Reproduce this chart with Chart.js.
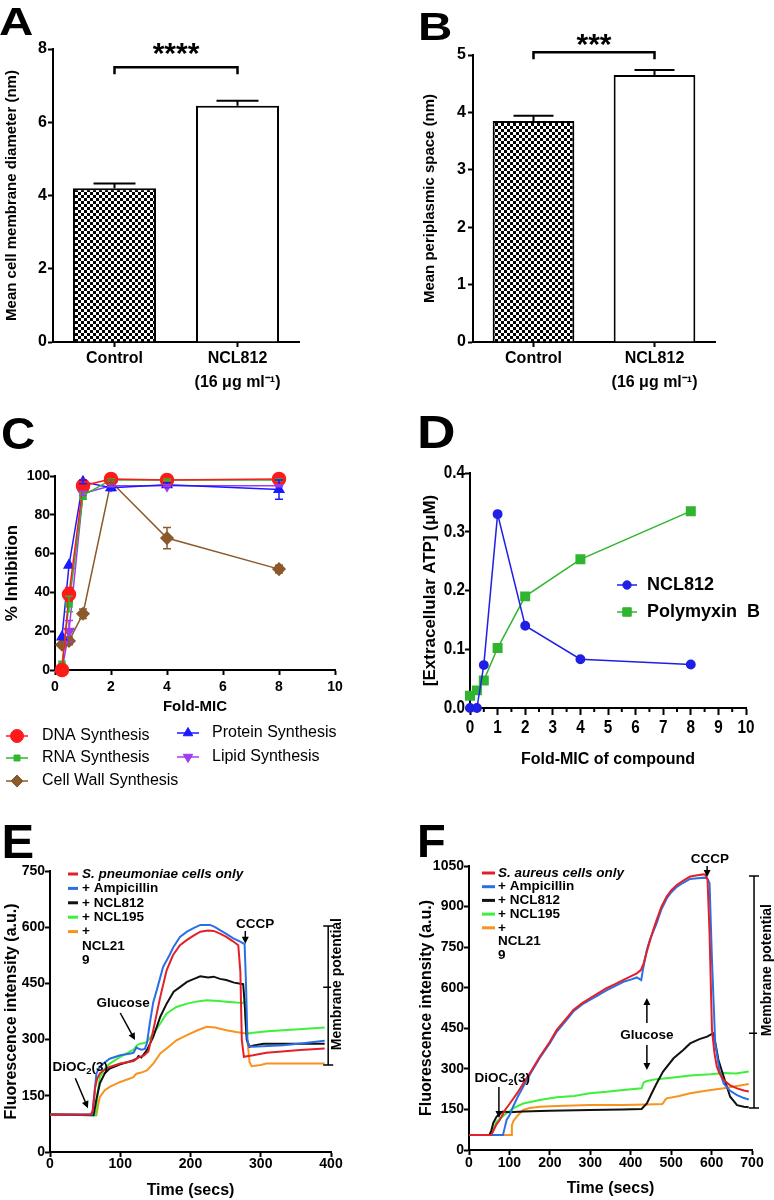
<!DOCTYPE html>
<html><head><meta charset="utf-8">
<script src="https://cdn.jsdelivr.net/npm/chart.js@4"></script>
<style>
html,body{margin:0;padding:0;background:#fff;}
#wrap{position:relative;width:774px;height:1200px;overflow:hidden;background:#fff;}
canvas{position:absolute;}
</style></head><body>
<div id="wrap">
<canvas id="cA" width="390" height="390" style="left:0px;top:0px"></canvas>
<canvas id="cB" width="384" height="390" style="left:390px;top:0px"></canvas>
<canvas id="cC" width="390" height="420" style="left:0px;top:390px"></canvas>
<canvas id="cD" width="384" height="420" style="left:390px;top:390px"></canvas>
<canvas id="cE" width="390" height="390" style="left:0px;top:810px"></canvas>
<canvas id="cF" width="384" height="390" style="left:390px;top:810px"></canvas>
</div>
<script>
// ---------------- DATA ----------------
const barCategories = ['Control', ['NCL812', '(16 \u03bcg ml\u207b\u00b9)']];
const membraneDiameter = [4.2, 6.45];
const membraneDiameterErr = [0.13, 0.14];
const periplasmicSpace = [3.85, 4.65];
const periplasmicSpaceErr = [0.09, 0.09];

const foldMIC = [0.25, 0.5, 1, 2, 4, 8];
const dnaSynthesis = [0, 39, 95, 98.5, 98, 98.5];
const dnaErr = [0, 3.5, 1, 0.5, 0.5, 0.5];
const rnaSynthesis = [3, 34, 90, 98, 98, 98];
const rnaErr = [0, 4, 2, 0.5, 0.5, 0.5];
const proteinSynthesis = [17, 54, 97, 94, 95.5, 93];
const proteinErr = [0, 0, 1, 1.5, 1, 5];
const lipidSynthesis = [0, 20, 91, 95, 95, 95];
const lipidErr = [0, 5.5, 1, 0.5, 0.5, 0.5];
const cellWallSynthesis = [13, 15, 29, 97, 68, 52];
const cellWallErr = [0, 2, 2.5, 1, 5.5, 2];

const atpFoldMIC = [0, 0.25, 0.5, 1, 2, 4, 8];
const atpNCL812 = [0, 0, 0.073, 0.33, 0.14, 0.083, 0.074];
const atpPolymyxinB = [0.021, 0.03, 0.047, 0.102, 0.19, 0.253, 0.335];

// Panel E (S. pneumoniae)
const eRedT = [0,58,61,64,67,71,78,85,100,119,124,128,134,140,147,152,157,166,175,185,195,205,214,225,233,242,251,260,268,271,273,276,289,308,330,356,391];
const eRedY = [100,100,110,170,195,210,220,227,236,243,250,254,258,268,325,370,414,485,525,552,566,578,588,591,590,583,574,563,552,480,300,254,258,265,268,272,276];
const eBlueT = [0,60,63,66,70,76,85,100,115,119,123,126,130,135,138,142,147,152,161,170,176,185,195,205,214,222,228,235,242,251,261,270,277,279,281,283,289,310,332,360,391];
const eBlueY = [100,100,150,209,225,236,249,258,263,265,279,276,273,275,290,343,400,432,494,525,548,574,588,598,606,606,606,600,592,582,570,562,555,450,300,282,281,283,285,290,297];
const eBlackT = [0,62,66,71,78,85,100,119,124,126,130,138,147,157,166,176,185,195,205,214,225,233,242,251,262,275,277,280,284,290,304,340,391];
const eBlackY = [100,98,140,183,210,223,234,245,250,256,252,272,307,361,396,428,440,454,462,469,466,468,462,459,452,448,400,300,281,284,289,289,289];
const eGreenT = [0,65,68,71,78,85,100,119,124,128,133,138,147,157,166,180,195,210,223,240,251,265,275,277,279,282,289,310,332,360,391];
const eGreenY = [100,98,160,200,222,236,254,273,285,289,290,294,316,343,370,387,396,402,405,403,401,399,398,405,330,316,318,322,325,328,332];
const eOrangeT = [0,66,69,71,78,85,100,119,121,123,130,138,147,157,166,180,195,210,223,235,251,265,280,282,284,287,300,308,350,391];
const eOrangeY = [100,98,130,147,165,174,187,200,205,209,212,218,236,263,276,298,312,325,334,332,325,320,316,280,240,229,232,236,236,236];

// Panel F (S. aureus)
const fRedT = [0,55,60,68,76,90,101,120,134,155,175,200,217,240,258,280,299,320,340,360,382,400,415,425,432,440,448,456,464,476,489,500,514,530,547,565,580,585,590,595,601,607,613,620,630,645,663,680,692];
const fRedY = [55,55,70,95,111,150,172,212,246,295,345,400,444,485,518,543,561,580,598,612,629,642,653,665,690,735,776,815,850,900,937,960,980,996,1011,1016,1019,1017,1000,800,444,360,308,282,259,240,228,220,216];
const fBlueT = [0,84,88,93,101,109,120,134,155,175,200,217,240,258,280,299,320,340,360,382,400,415,426,430,440,448,464,476,489,500,514,530,547,565,584,590,595,601,609,620,630,645,663,680,692];
const fBlueY = [55,55,80,111,130,160,195,234,290,340,395,437,478,512,538,555,573,590,605,622,630,638,628,665,740,780,838,890,930,952,973,988,1002,1005,1007,1002,986,702,394,290,246,220,203,192,187];
const fBlackT = [0,50,55,60,68,76,84,100,134,200,299,380,427,432,440,452,464,480,506,530,547,570,589,600,605,610,617,630,646,663,680,692];
const fBlackY = [55,55,70,100,123,135,142,140,142,145,148,150,152,160,172,210,246,290,339,370,394,410,419,428,431,390,333,271,197,166,160,158];
const fGreenT = [0,55,60,68,80,93,110,134,175,217,260,299,340,382,427,432,440,464,506,547,597,630,660,692];
const fGreenY = [55,55,75,105,120,136,155,172,185,195,200,210,215,222,228,250,255,262,268,275,280,285,283,290];
const fOrangeT = [0,104,106,109,115,125,134,150,175,217,299,382,440,478,481,485,489,520,547,590,630,660,692];
const fOrangeY = [55,55,90,105,118,135,148,155,160,163,166,166,168,170,175,185,191,200,210,220,228,236,244];

const eLegendLines = [['S. pneumoniae cells only'], ['+ Ampicillin'], ['+ NCL812'], ['+ NCL195'], ['+', 'NCL21', '9']];
const fLegendLines = [['S. aureus cells only'], ['+ Ampicillin'], ['+ NCL812'], ['+ NCL195'], ['+', 'NCL21', '9']];

// ---------------- HELPERS ----------------
const FONT = "'Liberation Sans', Arial, Helvetica, sans-serif";
Chart.defaults.font.family = FONT;
Chart.defaults.color = '#000';
Chart.defaults.animation = false;

const xy = (xs, ys) => xs.map((x, i) => ({x: x, y: ys[i]}));

function checker(ctx) {
  const c = document.createElement('canvas'); c.width = 6; c.height = 6;
  const g = c.getContext('2d');
  g.fillStyle = '#fff'; g.fillRect(0, 0, 6, 6);
  g.fillStyle = '#000'; g.fillRect(0, 0, 3, 3); g.fillRect(3, 3, 3, 3);
  return ctx.createPattern(c, 'repeat');
}

function panelLabel(ctx, text, x, baseline, size, sx) {
  ctx.save();
  ctx.font = 'bold ' + size + 'px ' + FONT;
  ctx.fillStyle = '#000'; ctx.textAlign = 'left'; ctx.textBaseline = 'alphabetic';
  ctx.translate(x, baseline); ctx.scale(sx, 1); ctx.fillText(text, 0, 0);
  ctx.restore();
}

function narrowText(ctx, text, x, y, align, size, sx) {
  ctx.save();
  ctx.font = 'bold ' + size + 'px ' + FONT;
  ctx.fillStyle = '#000'; ctx.textAlign = align; ctx.textBaseline = 'middle';
  ctx.translate(x, y); ctx.scale(sx, 1); ctx.fillText(text, 0, 0);
  ctx.restore();
}

function marker(ctx, style, x, y, r, color) {
  ctx.save(); ctx.fillStyle = color; ctx.strokeStyle = color; ctx.lineWidth = 1;
  ctx.beginPath();
  const s = r * Math.SQRT1_2;
  if (style === 'circle') ctx.arc(x, y, r, 0, Math.PI * 2);
  else if (style === 'rect') ctx.rect(x - s, y - s, 2 * s, 2 * s);
  else if (style === 'rectRot') { ctx.moveTo(x, y - r); ctx.lineTo(x + r, y); ctx.lineTo(x, y + r); ctx.lineTo(x - r, y); ctx.closePath(); }
  else if (style === 'triangle') { ctx.moveTo(x, y - r); ctx.lineTo(x + r * 0.866, y + r * 0.5); ctx.lineTo(x - r * 0.866, y + r * 0.5); ctx.closePath(); }
  else if (style === 'triangleDown') { ctx.moveTo(x, y + r); ctx.lineTo(x + r * 0.866, y - r * 0.5); ctx.lineTo(x - r * 0.866, y - r * 0.5); ctx.closePath(); }
  ctx.fill(); ctx.stroke(); ctx.restore();
}

function arrow(ctx, x1, y1, x2, y2) {
  const a = Math.atan2(y2 - y1, x2 - x1), h = 7, w = 3.5;
  ctx.beginPath(); ctx.moveTo(x1, y1); ctx.lineTo(x2 - Math.cos(a) * h * 0.8, y2 - Math.sin(a) * h * 0.8); ctx.stroke();
  ctx.beginPath(); ctx.moveTo(x2, y2);
  ctx.lineTo(x2 - h * Math.cos(a) + w * Math.sin(a), y2 - h * Math.sin(a) - w * Math.cos(a));
  ctx.lineTo(x2 - h * Math.cos(a) - w * Math.sin(a), y2 - h * Math.sin(a) + w * Math.cos(a));
  ctx.closePath(); ctx.fill();
}

function subText(ctx, parts, cx, cy, size) {
  let total = 0;
  parts.forEach(p => { ctx.font = 'bold ' + (p[1] ? size * 0.7 : size) + 'px ' + FONT; total += ctx.measureText(p[0]).width; });
  let x = cx - total / 2;
  ctx.textAlign = 'left'; ctx.textBaseline = 'middle';
  parts.forEach(p => {
    ctx.font = 'bold ' + (p[1] ? size * 0.7 : size) + 'px ' + FONT;
    ctx.fillText(p[0], x, p[1] ? cy + size * 0.3 : cy);
    x += ctx.measureText(p[0]).width;
  });
}

function yAxis(o) {
  return {
    type: 'linear', min: o.min, max: o.max,
    afterFit: s => { s.width = o.width; },
    border: {display: true, color: '#000', width: 2},
    grid: {display: true, drawOnChartArea: false, drawTicks: true, tickLength: 5, tickColor: '#000', tickWidth: 2},
    ticks: {display: o.showTicks !== false, stepSize: o.step, padding: o.labelPad, color: '#000', font: {size: o.fontSize, weight: 'bold'},
            callback: v => (o.decimals ? Number(v).toFixed(o.decimals) : v)},
    title: {display: true, text: o.title, color: '#000', font: {size: o.titleSize, weight: 'bold'}, padding: {top: o.titlePad, bottom: 0}}
  };
}
function xAxis(o) {
  return {
    type: 'linear', min: o.min, max: o.max,
    afterFit: s => { s.height = o.height; },
    border: {display: true, color: '#000', width: 2},
    grid: {display: true, drawOnChartArea: false, drawTicks: true, tickLength: o.tickLength || 5, tickColor: '#000', tickWidth: 2},
    ticks: {display: o.showTicks !== false, stepSize: o.step, padding: o.labelPad, autoSkip: false, maxRotation: 0, color: '#000',
            font: {size: o.fontSize, weight: 'bold', lineHeight: o.lineHeight || 1.2}},
    title: {display: true, text: o.title, color: '#000', font: {size: o.titleSize, weight: 'bold'}, padding: {top: 0, bottom: 0}}
  };
}

// ---------------- BAR PANELS ----------------
const barExtras = {
  id: 'barExtras',
  afterDraw(chart, args, o) {
    const ctx = chart.ctx, ys = chart.scales.y, meta = chart.getDatasetMeta(0), ds = chart.data.datasets[0];
    ctx.save(); ctx.strokeStyle = '#000'; ctx.fillStyle = '#000'; ctx.lineWidth = 2;
    meta.data.forEach((bar, i) => {
      const top = ys.getPixelForValue(ds.data[i] + o.err[i]);
      ctx.beginPath(); ctx.moveTo(bar.x, bar.y); ctx.lineTo(bar.x, top);
      ctx.moveTo(bar.x - o.capW / 2, top); ctx.lineTo(bar.x + o.capW / 2, top); ctx.stroke();
    });
    const yb = ys.getPixelForValue(o.bracket), x0 = meta.data[0].x, x1 = meta.data[1].x;
    ctx.lineWidth = 2.5;
    ctx.beginPath(); ctx.moveTo(x0, yb + 7); ctx.lineTo(x0, yb); ctx.lineTo(x1, yb); ctx.lineTo(x1, yb + 7); ctx.stroke();
    ctx.font = 'bold 30px ' + FONT; ctx.textAlign = 'center'; ctx.textBaseline = 'alphabetic';
    ctx.fillText(o.stars, (x0 + x1) / 2, o.starY);
    ctx.restore();
    panelLabel(ctx, o.label, o.lx, o.ly, 38, 1.25);
  }
};

function makeBar(id, values, yMax, yStep, yWidth, rightPad, topPad, yTitle, titlePad, labelPad, extras) {
  const ctx = document.getElementById(id).getContext('2d');
  return new Chart(ctx, {
    type: 'bar',
    data: {labels: barCategories, datasets: [{data: values, backgroundColor: [checker(ctx), '#ffffff'], borderColor: '#000', borderWidth: 2,
      borderSkipped: 'bottom', barPercentage: 0.675, categoryPercentage: 1}]},
    options: {
      responsive: false, animation: false,
      layout: {padding: {left: 0, right: rightPad, top: topPad, bottom: 0}},
      plugins: {legend: {display: false}, tooltip: {enabled: false}, barExtras: extras},
      scales: {
        x: {afterFit: s => { s.height = 48; }, border: {display: true, color: '#000', width: 2},
            grid: {offset: false, drawOnChartArea: false, drawTicks: true, tickLength: 5, tickColor: '#000', tickWidth: 2},
            ticks: {padding: 0, maxRotation: 0, color: '#000', font: {size: 16, weight: 'bold', lineHeight: 1.5}}},
        y: yAxis({min: 0, max: yMax, step: yStep, width: yWidth, fontSize: 16, labelPad: labelPad, title: yTitle, titleSize: 15, titlePad: titlePad})
      }
    },
    plugins: [barExtras]
  });
}

makeBar('cA', membraneDiameter, 8, 2, 53, 91, 49, 'Mean cell membrane diameter (nm)', 3, 1,
  {err: membraneDiameterErr, capW: 42, bracket: 7.5, stars: '****', starY: 63, label: 'A', lx: -1, ly: 35});
makeBar('cB', periplasmicSpace, 5, 1, 83, 59, 55, 'Mean periplasmic space (nm)', 31, 2,
  {err: periplasmicSpaceErr, capW: 40, bracket: 5.05, stars: '***', starY: 54, label: 'B', lx: 28, ly: 40});

// ---------------- PANEL C ----------------
const cSeries = [
  {label: 'DNA Synthesis', y: dnaSynthesis, err: dnaErr, color: '#ff1a1a', style: 'circle', r: 6.5},
  {label: 'RNA Synthesis', y: rnaSynthesis, err: rnaErr, color: '#2eb82e', style: 'rect', r: 4.2},
  {label: 'Protein Synthesis', y: proteinSynthesis, err: proteinErr, color: '#1a1aff', style: 'triangle', r: 5.5},
  {label: 'Lipid Synthesis', y: lipidSynthesis, err: lipidErr, color: '#a03cf0', style: 'triangleDown', r: 5.5},
  {label: 'Cell Wall Synthesis', y: cellWallSynthesis, err: cellWallErr, color: '#8b5a2b', style: 'rectRot', r: 6}
];
const cLegendPos = {'DNA Synthesis': [17, 42, 346], 'RNA Synthesis': [17, 42, 368], 'Cell Wall Synthesis': [17, 42, 391],
                    'Protein Synthesis': [188, 212, 343], 'Lipid Synthesis': [188, 212, 367]};

const cExtras = {
  id: 'cExtras',
  afterDatasetsDraw(chart) {
    const ctx = chart.ctx, ys = chart.scales.y;
    ctx.save(); ctx.lineWidth = 1.5;
    chart.data.datasets.forEach((ds, i) => {
      const meta = chart.getDatasetMeta(i);
      ctx.strokeStyle = ds.borderColor;
      meta.data.forEach((pt, j) => {
        const e = ds.errors[j]; if (!e) return;
        const v = ds.data[j].y, t = ys.getPixelForValue(v + e), b = ys.getPixelForValue(v - e);
        ctx.beginPath(); ctx.moveTo(pt.x, t); ctx.lineTo(pt.x, b);
        ctx.moveTo(pt.x - 4, t); ctx.lineTo(pt.x + 4, t); ctx.moveTo(pt.x - 4, b); ctx.lineTo(pt.x + 4, b); ctx.stroke();
      });
    });
    ctx.restore();
  },
  afterDraw(chart) {
    const ctx = chart.ctx;
    ctx.save();
    cSeries.forEach(s => {
      const p = cLegendPos[s.label];
      ctx.strokeStyle = s.color; ctx.lineWidth = 1.5;
      ctx.beginPath(); ctx.moveTo(p[0] - 11, p[2]); ctx.lineTo(p[0] + 11, p[2]); ctx.stroke();
      marker(ctx, s.style, p[0], p[2], s.r, s.color);
      ctx.fillStyle = '#000'; ctx.font = '16px ' + FONT; ctx.textAlign = 'left'; ctx.textBaseline = 'middle';
      ctx.fillText(s.label, p[1], p[2]);
    });
    ctx.restore();
    panelLabel(ctx, 'C', 1, 59, 44, 1.08);
  }
};

new Chart(document.getElementById('cC').getContext('2d'), {
  type: 'line',
  data: {datasets: cSeries.map(s => ({
    label: s.label, data: xy(foldMIC, s.y), errors: s.err, borderColor: s.color, backgroundColor: s.color,
    pointBackgroundColor: s.color, pointBorderColor: s.color, borderWidth: 1.5, clip: false,
    pointStyle: s.style === 'triangleDown' ? 'triangle' : s.style, rotation: s.style === 'triangleDown' ? 180 : 0,
    pointRadius: s.r, tension: 0
  }))},
  options: {
    responsive: false, animation: false,
    layout: {padding: {left: 0, right: 55, top: 86, bottom: 94}},
    plugins: {legend: {display: false}, tooltip: {enabled: false}},
    scales: {
      x: xAxis({min: 0, max: 10, step: 2, height: 46, fontSize: 14, labelPad: 4, title: 'Fold-MIC', titleSize: 15}),
      y: yAxis({min: 0, max: 100, step: 20, width: 55, fontSize: 14, labelPad: 0, title: '% Inhibition', titleSize: 17, titlePad: 2})
    }
  },
  plugins: [cExtras]
});

// ---------------- PANEL D ----------------
const dSeries = [
  {label: 'NCL812', y: atpNCL812, color: '#1f1fe6', style: 'circle', r: 4.2, ly: 195},
  {label: 'Polymyxin  B', y: atpPolymyxinB, color: '#2fb52f', style: 'rect', r: 6, ly: 222}
];
const dExtras = {
  id: 'dExtras',
  afterDraw(chart) {
    const ctx = chart.ctx, xs = chart.scales.x, ys = chart.scales.y;
    ctx.save();
    // condensed tick labels taken from the library's own ticks
    ys.ticks.forEach(t => narrowText(ctx, Number(t.value).toFixed(1), ys.right - 5, ys.getPixelForValue(t.value), 'right', 18, 0.85));
    xs.ticks.forEach(t => narrowText(ctx, String(t.value), xs.getPixelForValue(t.value), xs.top + 20, 'center', 18, 0.85));
    // minor ticks at half steps
    ctx.strokeStyle = '#000'; ctx.lineWidth = 2;
    xs.ticks.forEach(t => {
      if (t.value >= xs.max) return;
      const px = xs.getPixelForValue(t.value + 0.5);
      ctx.beginPath(); ctx.moveTo(px, xs.top); ctx.lineTo(px, xs.top + 4); ctx.stroke();
    });
    dSeries.forEach(s => {
      ctx.strokeStyle = s.color; ctx.lineWidth = 1.5;
      ctx.beginPath(); ctx.moveTo(227, s.ly); ctx.lineTo(247, s.ly); ctx.stroke();
      marker(ctx, s.style, 237, s.ly, s.r, s.color);
      ctx.fillStyle = '#000'; ctx.font = 'bold 18px ' + FONT; ctx.textAlign = 'left'; ctx.textBaseline = 'middle';
      ctx.fillText(s.label, 257, s.ly);
    });
    ctx.restore();
    panelLabel(ctx, 'D', 27, 58, 46, 1.16);
  }
};
new Chart(document.getElementById('cD').getContext('2d'), {
  type: 'line',
  data: {datasets: dSeries.map(s => ({
    label: s.label, data: xy(atpFoldMIC, s.y), borderColor: s.color, backgroundColor: s.color,
    pointBackgroundColor: s.color, pointBorderColor: s.color, borderWidth: 1.5, clip: false,
    pointStyle: s.style, pointRadius: s.r, tension: 0
  }))},
  options: {
    responsive: false, animation: false,
    layout: {padding: {left: 0, right: 28, top: 83, bottom: 41}},
    plugins: {legend: {display: false}, tooltip: {enabled: false}},
    scales: {
      x: xAxis({min: 0, max: 10, step: 1, height: 61, fontSize: 16, labelPad: 5, tickLength: 7, showTicks: false,
                title: 'Fold-MIC of compound', titleSize: 16}),
      y: yAxis({min: 0, max: 0.4, step: 0.1, width: 80, fontSize: 16, labelPad: 0, decimals: 1, showTicks: false,
                title: '[Extracellular ATP] (\u03bcM)', titleSize: 17, titlePad: 30})
    }
  },
  plugins: [dExtras]
});

// ---------------- PANELS E, F ----------------
const traceColors = ['#e3202a', '#2b6fe6', '#111111', '#3cf03c', '#f7931e'];

const traceExtras = {
  id: 'traceExtras',
  afterDraw(chart, args, o) {
    const ctx = chart.ctx, xs = chart.scales.x, ys = chart.scales.y;
    const X = v => xs.getPixelForValue(v), Y = v => ys.getPixelForValue(v);
    ctx.save();
    let row = 0;
    o.legend.forEach((lines, i) => {
      const yy = o.legY + row * o.legStep;
      ctx.strokeStyle = traceColors[i]; ctx.lineWidth = 3;
      ctx.beginPath(); ctx.moveTo(o.legX0, yy); ctx.lineTo(o.legX1, yy); ctx.stroke();
      ctx.fillStyle = '#000'; ctx.textAlign = 'left'; ctx.textBaseline = 'middle';
      lines.forEach((ln, k) => {
        ctx.font = (i === 0 ? 'italic bold ' : 'bold ') + '13.5px ' + FONT;
        ctx.fillText(ln, o.legText, o.legY + (row + k) * o.legStep);
      });
      row += lines.length;
    });
    ctx.fillStyle = '#000'; ctx.strokeStyle = '#000'; ctx.lineWidth = 1.5;
    o.texts.forEach(t => {
      if (t.sub) subText(ctx, [['DiOC', false], ['2', true], ['(3)', false]], X(t.x), Y(t.y), 13.5);
      else { ctx.font = 'bold 13.5px ' + FONT; ctx.textAlign = 'center'; ctx.textBaseline = 'middle'; ctx.fillText(t.text, X(t.x), Y(t.y)); }
    });
    o.arrows.forEach(a => arrow(ctx, X(a[0]), Y(a[1]), X(a[2]), Y(a[3])));
    const bx = X(o.br.x), bt = Y(o.br.top), bm = Y(o.br.mid), bb = Y(o.br.bot);
    ctx.lineWidth = 1.5;
    ctx.beginPath(); ctx.moveTo(bx, bt); ctx.lineTo(bx, bb);
    ctx.moveTo(bx - 5, bt); ctx.lineTo(bx + 5, bt); ctx.moveTo(bx - 5, bb); ctx.lineTo(bx + 5, bb);
    ctx.moveTo(bx - 5, bm); ctx.lineTo(bx + 3, bm); ctx.stroke();
    ctx.save(); ctx.translate(X(o.br.tx), Y(o.br.ty)); ctx.rotate(-Math.PI / 2);
    ctx.font = 'bold 14px ' + FONT; ctx.textAlign = 'center'; ctx.textBaseline = 'middle';
    ctx.fillText('Membrane potential', 0, 0); ctx.restore();
    ctx.restore();
    panelLabel(ctx, o.label, o.lx, o.ly, o.lsize, 1);
  }
};

function makeTrace(id, series, xMax, yMax, yWidth, pad, xLabelPad, titlePad, extras) {
  return new Chart(document.getElementById(id).getContext('2d'), {
    type: 'line',
    data: {datasets: series.map((s, i) => ({data: xy(s[0], s[1]), borderColor: traceColors[i], borderWidth: 2,
      pointRadius: 0, tension: 0, clip: false}))},
    options: {
      responsive: false, animation: false,
      layout: {padding: pad},
      plugins: {legend: {display: false}, tooltip: {enabled: false}, traceExtras: extras},
      scales: {
        x: xAxis({min: 0, max: xMax, step: 100, height: 48, fontSize: 14, labelPad: xLabelPad, lineHeight: 1, title: 'Time (secs)', titleSize: 16}),
        y: yAxis({min: 0, max: yMax, step: 150, width: yWidth, fontSize: 14, labelPad: 0, title: 'Fluorescence intensity (a.u.)', titleSize: 16, titlePad: titlePad})
      }
    },
    plugins: [traceExtras]
  });
}

makeTrace('cE', [[eRedT, eRedY], [eBlueT, eBlueY], [eBlackT, eBlackY], [eGreenT, eGreenY], [eOrangeT, eOrangeY]],
  400, 750, 50, {left: 0, right: 59, top: 61, bottom: 0}, 0, 2,
  {legend: eLegendLines, legX0: 68, legX1: 78, legText: 82, legY: 64, legStep: 14.4,
   texts: [{text: 'CCCP', x: 292, y: 608}, {text: 'Glucose', x: 104, y: 398}, {sub: true, x: 43, y: 227}],
   arrows: [[278, 590, 278, 556], [100, 371, 121, 299], [36, 197, 54, 117]],
   br: {x: 396, top: 603, mid: 440, bot: 232, tx: 408.5, ty: 448},
   label: 'E', lx: 1.5, ly: 48, lsize: 49});

makeTrace('cF', [[fRedT, fRedY], [fBlueT, fBlueY], [fBlackT, fBlackY], [fGreenT, fGreenY], [fOrangeT, fOrangeY]],
  700, 1050, 79, {left: 0, right: 22, top: 56, bottom: 2}, 1, 27,
  {legend: fLegendLines, legX0: 92, legX1: 105, legText: 108, legY: 63, legStep: 13.7,
   texts: [{text: 'CCCP', x: 596, y: 1076}, {text: 'Glucose', x: 440, y: 425}, {sub: true, x: 82, y: 266}],
   arrows: [[589, 1050, 589, 1009], [440, 470, 440, 562], [440, 388, 440, 296], [74, 233, 74, 118]],
   br: {x: 705, top: 1013, mid: 432, bot: 155, tx: 737, ty: 665},
   label: 'F', lx: 27, ly: 47, lsize: 47});
</script>
</body></html>
